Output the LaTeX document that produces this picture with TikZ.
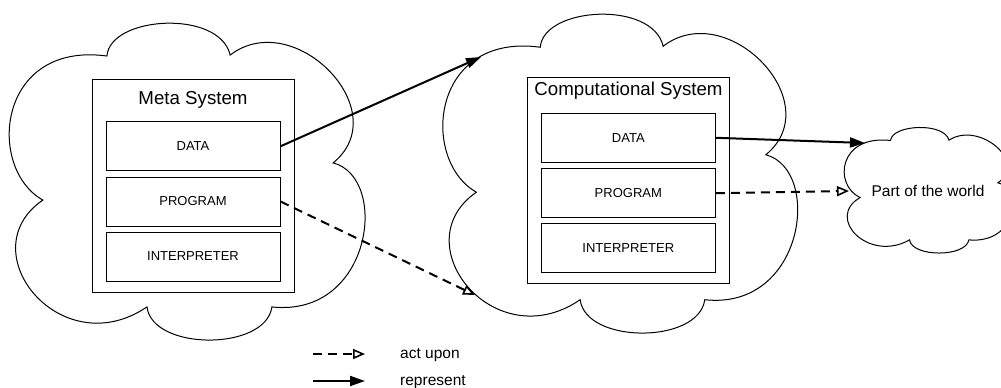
\documentclass[tikz,border=0pt]{standalone}
\usepackage{fontspec}
\setmainfont{Liberation Sans}
\usetikzlibrary{arrows.meta}
\begin{document}
\begin{tikzpicture}[x=1pt,y=-1pt,
  puffline/.style={draw=black,line width=1pt,fill=white},
  frame/.style={draw=black,line width=1pt,inner sep=0pt},
  slot/.style={draw=black,line width=1pt,inner sep=0pt,minimum width=174pt,minimum height=49pt,
    font=\fontsize{13}{15}\selectfont},
  title/.style={anchor=base,inner sep=0pt,font=\fontsize{18.7}{22}\selectfont},
  label/.style={inner sep=0pt,font=\fontsize{15.5}{18}\selectfont},
  represents/.style={line width=2pt,-{Triangle[length=15pt,width=10pt]}},
  actsupon/.style={line width=2pt,dash pattern=on 9pt off 6pt,
    -{Triangle[open,length=12pt,width=10pt,line width=1.6pt]}},
  pics/puff/.style={code={
    \path[puffline] (0.271,0.107)
      .. controls (0.28,-0.02) and (0.59,-0.04) .. (0.619,0.104)
      .. controls (0.80,-0.05) and (1.09,0.28) .. (0.910,0.443)
      .. controls (1.07,0.49) and (1.02,0.93) .. (0.737,0.896)
      .. controls (0.72,1.035) and (0.40,1.035) .. (0.384,0.896)
      .. controls (0.14,1.08) and (-0.12,0.72) .. (0.090,0.560)
      .. controls (-0.07,0.46) and (-0.04,0.06) .. (0.271,0.107) -- cycle;
  }},
]
\useasboundingbox (0,0) rectangle (1001,388);

% clouds
\pic[xscale=354,yscale=318] at (11,22) {puff};
\pic[xscale=353,yscale=320] at (444.6,13) {puff};
\pic[xscale=168,yscale=126] at (845,127) {puff};

% meta system
\node[frame,minimum width=202pt,minimum height=213pt] (mframe) at (193,185.5) {};
\node[title] (mtitle) at (193,104.3) {Meta System};
\node[slot] (mdata) at (193,146.3) {DATA};
\node[slot] (mprog) at (193,201.5) {PROGRAM};
\node[slot] (minterp) at (193,256.5) {INTERPRETER};

% computational system
\node[frame,minimum width=202pt,minimum height=205.5pt] (cframe) at (628.5,180.3) {};
\node[title] (ctitle) at (628.5,95.7) {Computational System};
\node[slot] (cdata) at (628.3,137.8) {DATA};
\node[slot] (cprog) at (628.3,193.2) {PROGRAM};
\node[slot] (cinterp) at (628.3,248.2) {INTERPRETER};

% part of the world
\node[label,anchor=base] (world) at (928,196) {Part of the world};

% connector ends on the cloud outlines
\coordinate (ctop) at (481,57);
\coordinate (cbottom) at (475,295);
\coordinate (wtop) at (865,143);
\coordinate (wleft) at (849,191);

\draw[represents] (mdata.east) -- (ctop);
\draw[actsupon] (mprog.east) -- (cbottom);
\draw[represents] (cdata.east) -- (wtop);
\draw[actsupon] (cprog.east) -- (wleft);

% legend
\coordinate (lgdashA) at (313,354);
\coordinate (lgdashB) at (365,354);
\coordinate (lgsolidA) at (313,381);
\coordinate (lgsolidB) at (365,381);
\draw[actsupon] (lgdashA) -- (lgdashB);
\draw[represents] (lgsolidA) -- (lgsolidB);
\node[label,anchor=base west] (actlbl) at (400,358.3) {act upon};
\node[label,anchor=base west] (replbl) at (400,385) {represent};
\end{tikzpicture}
\end{document}
